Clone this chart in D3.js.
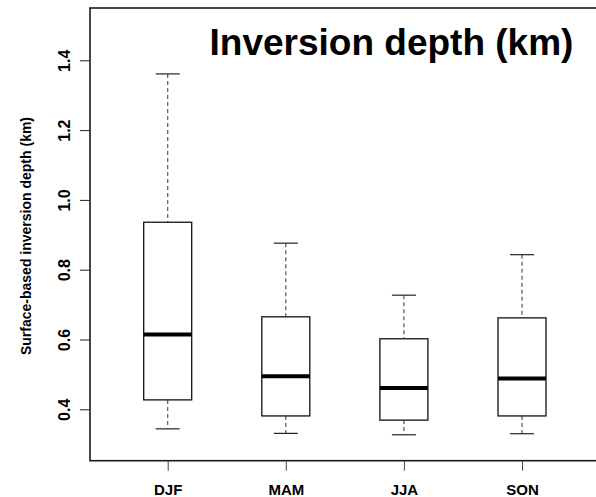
<!DOCTYPE html>
<html>
<head>
<meta charset="utf-8">
<script src="https://cdn.jsdelivr.net/npm/d3@7"></script>
<style>
  body { margin: 0; background: #fff; }
  svg { display: block; font-family: "Liberation Sans", Arial, sans-serif; }
</style>
</head>
<body>
<div id="chart"></div>
<script>
// seasons + five-number summaries
var seasons = ["DJF", "MAM", "JJA", "SON"];
var whiskerLow = [0.344, 0.331, 0.327, 0.330];
var q1 = [0.427, 0.381, 0.369, 0.381];
var median = [0.614, 0.495, 0.461, 0.488];
var q3 = [0.936, 0.665, 0.602, 0.662];
var whiskerHigh = [1.361, 0.876, 0.727, 0.843];
var yTicks = [0.4, 0.6, 0.8, 1.0, 1.2, 1.4];

var W = 596, H = 497;
var plotLeft = 90, plotTop = 8, plotBottom = 460.7;

var svg = d3.select("#chart").append("svg")
    .attr("width", W).attr("height", H);

var y = d3.scaleLinear().domain([0.4, 1.4]).range([409.3, 60.3]);
var x = d3.scalePoint().domain(seasons).range([167.7, 522]);

var boxW = 48, capW = 24;

var data = seasons.map(function(s, i) {
    return { s: s, lo: whiskerLow[i], q1: q1[i], med: median[i], q3: q3[i], hi: whiskerHigh[i] };
});

// frame: the right edge runs past the picture
svg.append("rect")
    .attr("x", plotLeft).attr("y", plotTop)
    .attr("width", W + 20 - plotLeft).attr("height", plotBottom - plotTop)
    .attr("fill", "none").attr("stroke", "#1a1a1a").attr("stroke-width", 1.6);

// y axis
var yAxis = svg.append("g").attr("transform", "translate(" + plotLeft + ",0)")
    .call(d3.axisLeft(y).tickValues(yTicks).tickSize(10).tickFormat(d3.format(".1f")));
yAxis.select(".domain").remove();
yAxis.selectAll("line").attr("stroke", "#222");
yAxis.selectAll("text")
    .attr("x", 0).attr("y", 0).attr("dy", 0)
    .attr("text-anchor", "middle")
    .attr("transform", "translate(-20,0) rotate(-90)")
    .style("font-size", "16px").style("font-weight", "bold").attr("fill", "#000");

// x axis
var xAxis = svg.append("g").attr("transform", "translate(0," + plotBottom + ")")
    .call(d3.axisBottom(x).tickSize(10));
xAxis.select(".domain").remove();
xAxis.selectAll("line").attr("stroke", "#444");
xAxis.selectAll("text").attr("y", 34.3).attr("dy", 0)
    .style("font-size", "15px").style("font-weight", "bold").attr("fill", "#000");

// whiskers
var g = svg.append("g");
g.selectAll(".whiskHi").data(data).enter().append("line")
    .attr("x1", function(d) { return x(d.s); }).attr("x2", function(d) { return x(d.s); })
    .attr("y1", function(d) { return y(d.hi); }).attr("y2", function(d) { return y(d.q3); })
    .attr("stroke", "#555").attr("stroke-width", 1.2).attr("stroke-dasharray", "4,3");
g.selectAll(".whiskLo").data(data).enter().append("line")
    .attr("x1", function(d) { return x(d.s); }).attr("x2", function(d) { return x(d.s); })
    .attr("y1", function(d) { return y(d.q1); }).attr("y2", function(d) { return y(d.lo); })
    .attr("stroke", "#555").attr("stroke-width", 1.2).attr("stroke-dasharray", "4,3");
g.selectAll(".capHi").data(data).enter().append("line")
    .attr("x1", function(d) { return x(d.s) - capW / 2; }).attr("x2", function(d) { return x(d.s) + capW / 2; })
    .attr("y1", function(d) { return y(d.hi); }).attr("y2", function(d) { return y(d.hi); })
    .attr("stroke", "#222").attr("stroke-width", 1.2);
g.selectAll(".capLo").data(data).enter().append("line")
    .attr("x1", function(d) { return x(d.s) - capW / 2; }).attr("x2", function(d) { return x(d.s) + capW / 2; })
    .attr("y1", function(d) { return y(d.lo); }).attr("y2", function(d) { return y(d.lo); })
    .attr("stroke", "#222").attr("stroke-width", 1.2);

// boxes
g.selectAll(".box").data(data).enter().append("rect")
    .attr("x", function(d) { return x(d.s) - boxW / 2; })
    .attr("width", boxW)
    .attr("y", function(d) { return y(d.q3); })
    .attr("height", function(d) { return y(d.q1) - y(d.q3); })
    .attr("fill", "#fff").attr("stroke", "#111").attr("stroke-width", 1.3);
g.selectAll(".med").data(data).enter().append("line")
    .attr("x1", function(d) { return x(d.s) - boxW / 2; }).attr("x2", function(d) { return x(d.s) + boxW / 2; })
    .attr("y1", function(d) { return y(d.med); }).attr("y2", function(d) { return y(d.med); })
    .attr("stroke", "#000").attr("stroke-width", 4);

// labels
svg.append("text")
    .attr("transform", "translate(31,236) rotate(-90)")
    .attr("text-anchor", "middle")
    .style("font-size", "14px").style("font-weight", "bold")
    .text("Surface-based inversion depth (km)");

svg.append("text")
    .attr("x", 391.5).attr("y", 55)
    .attr("text-anchor", "middle")
    .style("font-size", "37px").style("font-weight", "bold")
    .text("Inversion depth (km)");
</script>
</body>
</html>
